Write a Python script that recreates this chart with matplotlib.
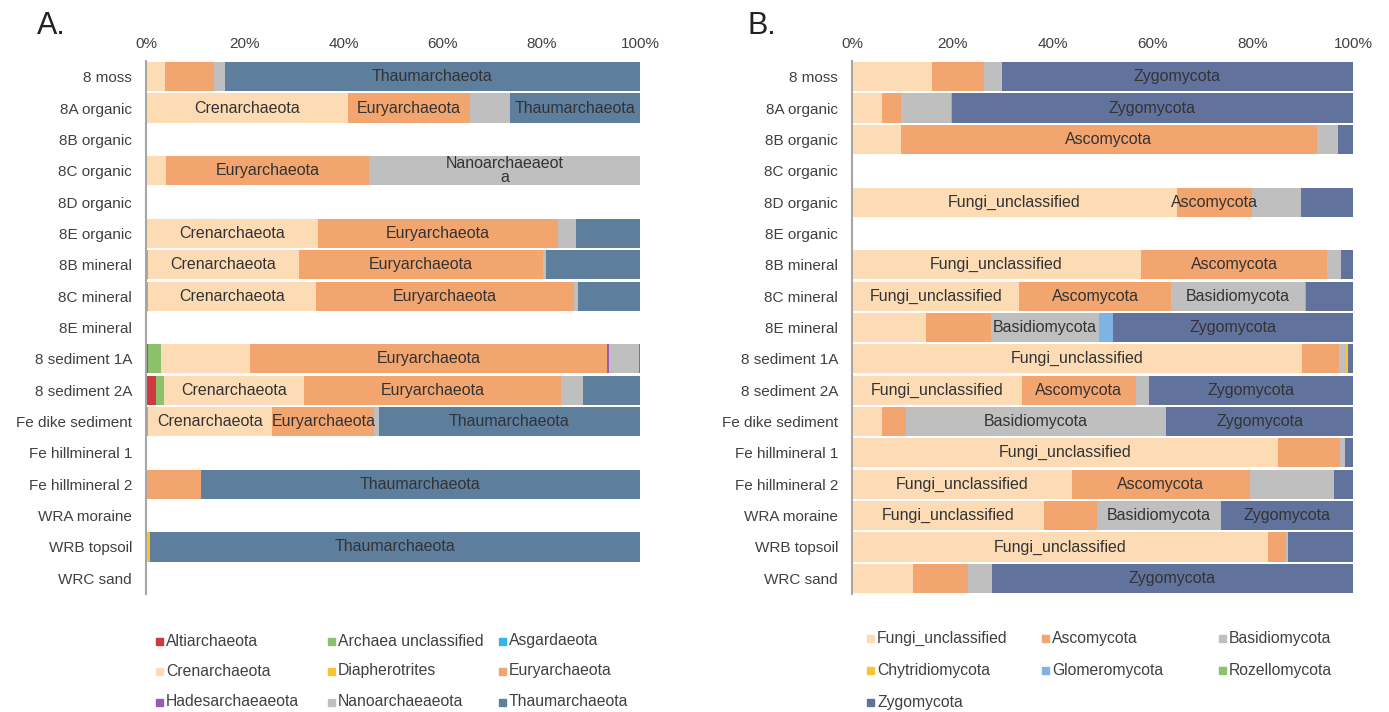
import matplotlib
matplotlib.use("Agg")
import matplotlib.pyplot as plt
from matplotlib.patches import Rectangle
import numpy as np

plt.rcParams['font.family'] = ['Liberation Sans', 'DejaVu Sans']
plt.rcParams['font.size'] = 11

samples = ["8 moss", "8A organic", "8B organic", "8C organic", "8D organic",
           "8E organic", "8B mineral", "8C mineral", "8E mineral",
           "8 sediment 1A", "8 sediment 2A", "Fe dike sediment",
           "Fe hillmineral 1", "Fe hillmineral 2", "WRA moraine",
           "WRB topsoil", "WRC sand"]

# archaeal phyla, relative abundance (%)
altiarchaeota = [0, 0, 0, 0, 0, 0, 0, 0, 0, 0.5, 2.0, 0, 0, 0, 0, 0, 0]
archaea_unclassified = [0.3, 0, 0, 0, 0, 0, 0.4, 0.4, 0, 2.5, 1.7, 0.4, 0, 0, 0, 0.3, 0]
asgardaeota = [0] * 17
crenarchaeota = [3.6, 40.8, 0, 4.0, 0, 34.9, 30.6, 34.1, 0, 18.1, 28.3, 25.2, 0, 0, 0, 0, 0]
diapherotrites = [0, 0, 0, 0, 0, 0, 0, 0, 0, 0, 0, 0, 0, 0, 0, 0.5, 0]
euryarchaeota = [9.8, 24.7, 0, 41.2, 0, 48.4, 49.3, 52.1, 0, 72.3, 52.1, 20.6, 0, 11.1, 0, 0, 0]
hadesarchaeaeota = [0, 0, 0, 0, 0, 0, 0, 0, 0, 0.3, 0, 0, 0, 0, 0, 0, 0]
nanoarchaeaeota = [2.2, 8.2, 0, 54.8, 0, 3.7, 0.7, 0.9, 0, 6.1, 4.3, 0.9, 0, 0, 0, 0, 0]
thaumarchaeota = [84.1, 26.3, 0, 0, 0, 13.0, 19.0, 12.5, 0, 0.3, 11.6, 52.9, 0, 88.9, 0, 99.2, 0]

# fungal phyla, relative abundance (%)
fungi_unclassified = [16.0, 5.9, 9.7, 0, 64.8, 0, 57.7, 33.4, 14.7, 89.8, 33.9, 5.9, 85.0, 43.9, 38.3, 83.0, 12.2]
ascomycota = [10.4, 3.8, 83.1, 0, 15.1, 0, 37.2, 30.3, 13.0, 7.4, 22.8, 4.8, 12.4, 35.5, 10.6, 3.7, 10.9]
basidiomycota = [3.5, 10.0, 4.3, 0, 9.7, 0, 2.7, 26.7, 21.6, 1.5, 2.5, 52.0, 1.1, 16.8, 24.7, 0.3, 4.8]
chytridiomycota = [0, 0, 0, 0, 0, 0, 0, 0, 0, 0.3, 0, 0, 0, 0, 0, 0, 0]
glomeromycota = [0, 0.2, 0, 0, 0, 0, 0, 0.2, 2.8, 0, 0, 0, 0, 0, 0, 0, 0]
rozellomycota = [0] * 17
zygomycota = [70.1, 80.1, 2.9, 0, 10.4, 0, 2.4, 9.4, 47.9, 1.0, 40.8, 37.3, 1.5, 3.8, 26.4, 13.0, 72.1]

archaea = [
    ("Altiarchaeota", altiarchaeota, "#D0393F"),
    ("Archaea unclassified", archaea_unclassified, "#8CC16C"),
    ("Asgardaeota", asgardaeota, "#33B5E6"),
    ("Crenarchaeota", crenarchaeota, "#FDDCB5"),
    ("Diapherotrites", diapherotrites, "#F9C431"),
    ("Euryarchaeota", euryarchaeota, "#F2A56E"),
    ("Hadesarchaeaeota", hadesarchaeaeota, "#9B59B6"),
    ("Nanoarchaeaeota", nanoarchaeaeota, "#BFBFBF"),
    ("Thaumarchaeota", thaumarchaeota, "#5E7E9E"),
]
fungi = [
    ("Fungi_unclassified", fungi_unclassified, "#FDDCB5"),
    ("Ascomycota", ascomycota, "#F2A56E"),
    ("Basidiomycota", basidiomycota, "#BFBFBF"),
    ("Chytridiomycota", chytridiomycota, "#F9C431"),
    ("Glomeromycota", glomeromycota, "#7FB3E3"),
    ("Rozellomycota", rozellomycota, "#8CC16C"),
    ("Zygomycota", zygomycota, "#61739C"),
]

# segments named inside the bars
label_min = 20.0
extra_labels = {("8D organic", "Ascomycota")}
wrapped = {"Nanoarchaeaeota": "Nanoarchaeaeot\na"}

TEXT = "#404040"


def stacked(ax, groups):
    y = np.arange(len(samples))
    left = np.zeros(len(samples))
    for name, vals, color in groups:
        vals = np.array(vals, dtype=float)
        ax.barh(y, vals, left=left, height=0.93, color=color, linewidth=0)
        for i, v in enumerate(vals):
            if v >= label_min or (samples[i], name) in extra_labels:
                ax.text(left[i] + v / 2, y[i], wrapped.get(name, name),
                        ha="center", va="center", fontsize=11.5,
                        color="#333333", linespacing=0.95)
        left += vals
    ax.set_xlim(0, 100)
    ax.set_ylim(len(samples) - 0.5, -0.5)
    ax.set_yticks(y)
    ax.set_yticklabels(samples, color=TEXT)
    ax.set_xticks(np.arange(0, 101, 20))
    ax.set_xticklabels([f"{t}%" for t in range(0, 101, 20)], color=TEXT)
    ax.xaxis.tick_top()
    ax.tick_params(length=0, labelsize=11)
    ax.tick_params(axis="y", pad=10)
    ax.tick_params(axis="x", pad=7)
    for s in ["top", "right", "bottom"]:
        ax.spines[s].set_visible(False)
    ax.spines["left"].set_color("#A6A6A6")
    ax.spines["left"].set_linewidth(1.5)


def legend(fig, groups, xs, ys):
    W, H = fig.bbox.width, fig.bbox.height
    for k, (name, _, color) in enumerate(groups):
        x = xs[k % 3]
        y = ys[k // 3]
        fig.patches.append(Rectangle(((x - 3.5) / W, 1 - (y + 3.5) / H),
                                     7 / W, 7 / H, color=color,
                                     transform=fig.transFigure))
        fig.text((x + 7) / W, 1 - y / H, name, ha="left", va="center",
                 fontsize=11.3, color=TEXT)


fig = plt.figure(figsize=(13.89, 7.12), dpi=100)
ax_a = fig.add_axes([146 / 1389, 1 - 594 / 712, 494 / 1389, 533 / 712])
ax_b = fig.add_axes([852 / 1389, 1 - 594 / 712, 501 / 1389, 533 / 712])

stacked(ax_a, archaea)
stacked(ax_b, fungi)

fig.text(37 / 1389, 1 - 26 / 712, "A.", fontsize=22, va="center", color="#222222")
fig.text(748 / 1389, 1 - 26 / 712, "B.", fontsize=22, va="center", color="#222222")

legend(fig, archaea, [159, 331, 502], [641, 671, 702])
legend(fig, fungi, [870, 1045, 1222], [638, 670, 702])

fig.savefig("out.png", dpi=100)
